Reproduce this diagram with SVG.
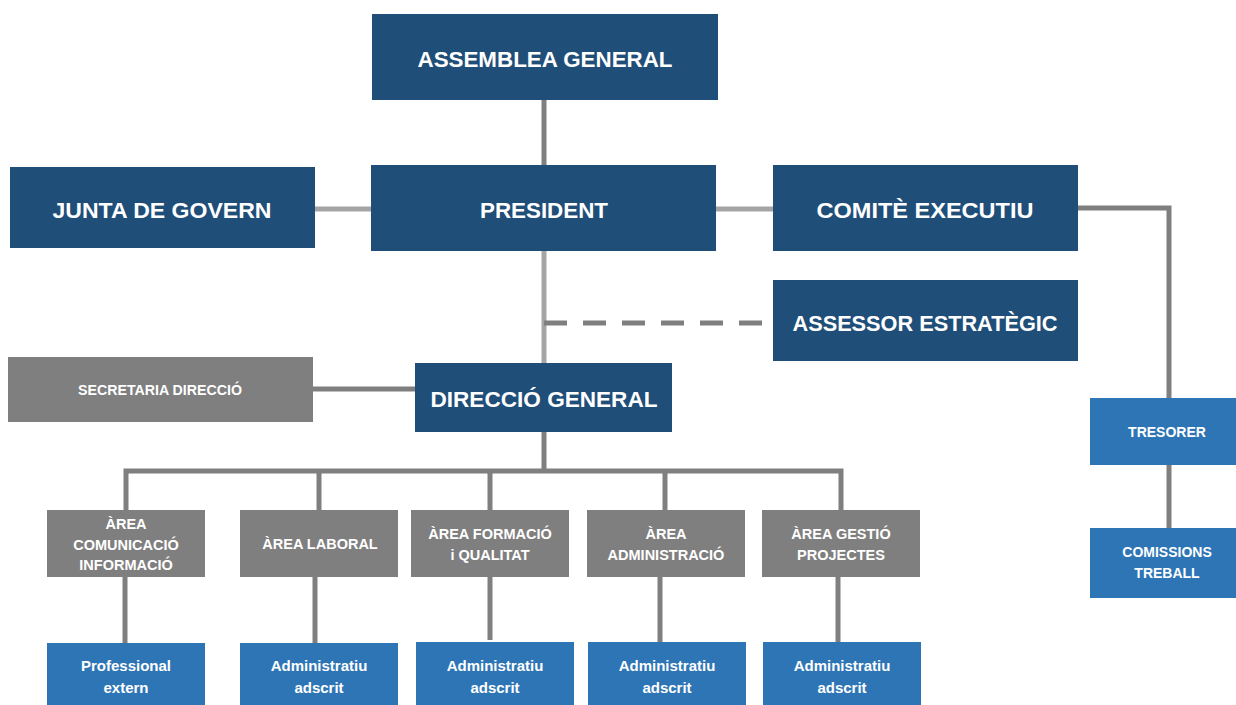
<svg xmlns="http://www.w3.org/2000/svg" width="1236" height="705" viewBox="0 0 1236 705">
<style>
.dk{fill:#1F4E79}
.gr{fill:#7F7F7F}
.bl{fill:#2E75B6}
text{font-family:"Liberation Sans",Arial,sans-serif;font-weight:bold;fill:#FFFFFF;text-anchor:middle}
.t1{font-size:22px}
.t2{font-size:14px}
.t4{font-size:14.5px}
.t3{font-size:15px}
.c{fill:none;stroke:#7F7F7F;stroke-width:5}
.cl{fill:none;stroke:#A5A5A5;stroke-width:5}
.dash{fill:none;stroke:#7F7F7F;stroke-width:5;stroke-dasharray:23 16}
</style>
<rect width="1236" height="705" fill="#FFFFFF"/>
<g id="connectors">
<path class="c" d="M544 100V165"/>
<path class="cl" d="M315 209H371"/>
<path class="cl" d="M716 209H773"/>
<path class="cl" d="M544 251V363"/>
<path class="dash" d="M544 323H763"/>
<path class="c" d="M1078 208H1169V398"/>
<path class="c" d="M1169 465V528"/>
<path class="c" d="M313 389H415"/>
<path class="c" d="M544 432V471"/>
<path class="c" d="M126 510V471H841V510"/>
<path class="c" d="M319 471V510"/>
<path class="c" d="M490 471V510"/>
<path class="c" d="M665 471V510"/>
<path class="c" d="M125 577V643"/>
<path class="c" d="M315 577V648"/>
<path class="c" d="M490 577V640"/>
<path class="c" d="M660 577V643"/>
<path class="c" d="M838 577V643"/>
</g>
<g id="assemblea"><rect class="dk" x="372" y="14" width="346" height="86"/><text class="t1" x="545" y="67" textLength="255" lengthAdjust="spacingAndGlyphs">ASSEMBLEA GENERAL</text></g>
<g id="junta"><rect class="dk" x="10" y="167" width="305" height="81"/><text class="t1" x="162" y="218" textLength="219" lengthAdjust="spacingAndGlyphs">JUNTA DE GOVERN</text></g>
<g id="president"><rect class="dk" x="371" y="165" width="345" height="86"/><text class="t1" x="544" y="218" textLength="128" lengthAdjust="spacingAndGlyphs">PRESIDENT</text></g>
<g id="comite"><rect class="dk" x="773" y="165" width="305" height="86"/><text class="t1" x="925" y="218" textLength="217" lengthAdjust="spacingAndGlyphs">COMITÈ EXECUTIU</text></g>
<g id="assessor"><rect class="dk" x="773" y="280" width="305" height="81"/><text class="t1" x="925" y="331" textLength="265" lengthAdjust="spacingAndGlyphs">ASSESSOR ESTRATÈGIC</text></g>
<g id="direccio"><rect class="dk" x="415" y="363" width="257" height="69"/><text class="t1" x="544" y="407" textLength="227" lengthAdjust="spacingAndGlyphs">DIRECCIÓ GENERAL</text></g>
<g id="secretaria"><rect class="gr" x="8" y="357" width="305" height="65"/><text class="t2" x="160" y="395" textLength="164" lengthAdjust="spacingAndGlyphs">SECRETARIA DIRECCIÓ</text></g>
<g id="tresorer"><rect class="bl" x="1090" y="398" width="146" height="67"/><text class="t2" x="1167" y="437">TRESORER</text></g>
<g id="comissions"><rect class="bl" x="1090" y="528" width="146" height="70"/><text class="t2" x="1167" y="557">COMISSIONS</text><text class="t2" x="1167" y="578">TREBALL</text></g>
<g id="area1"><rect class="gr" x="47" y="510" width="158" height="67"/><text class="t4" x="126" y="529">ÀREA</text><text class="t4" x="126" y="550">COMUNICACIÓ</text><text class="t4" x="126" y="570">INFORMACIÓ</text></g>
<g id="area2"><rect class="gr" x="240" y="510" width="158" height="67"/><text class="t4" x="320" y="549">ÀREA LABORAL</text></g>
<g id="area3"><rect class="gr" x="411" y="510" width="158" height="67"/><text class="t4" x="490" y="539">ÀREA FORMACIÓ</text><text class="t4" x="490" y="560">i QUALITAT</text></g>
<g id="area4"><rect class="gr" x="587" y="510" width="158" height="67"/><text class="t4" x="666" y="539">ÀREA</text><text class="t4" x="666" y="560">ADMINISTRACIÓ</text></g>
<g id="area5"><rect class="gr" x="762" y="510" width="158" height="67"/><text class="t4" x="841" y="539">ÀREA GESTIÓ</text><text class="t4" x="841" y="560">PROJECTES</text></g>
<g id="prof"><rect class="bl" x="47" y="643" width="158" height="62"/><text class="t3" x="126" y="671">Professional</text><text class="t3" x="126" y="693">extern</text></g>
<g id="adm1"><rect class="bl" x="240" y="643" width="158" height="62"/><text class="t3" x="319" y="671">Administratiu</text><text class="t3" x="319" y="693">adscrit</text></g>
<g id="adm2"><rect class="bl" x="416" y="642" width="158" height="63"/><text class="t3" x="495" y="671">Administratiu</text><text class="t3" x="495" y="693">adscrit</text></g>
<g id="adm3"><rect class="bl" x="588" y="642" width="158" height="63"/><text class="t3" x="667" y="671">Administratiu</text><text class="t3" x="667" y="693">adscrit</text></g>
<g id="adm4"><rect class="bl" x="763" y="642" width="158" height="63"/><text class="t3" x="842" y="671">Administratiu</text><text class="t3" x="842" y="693">adscrit</text></g>
</svg>
